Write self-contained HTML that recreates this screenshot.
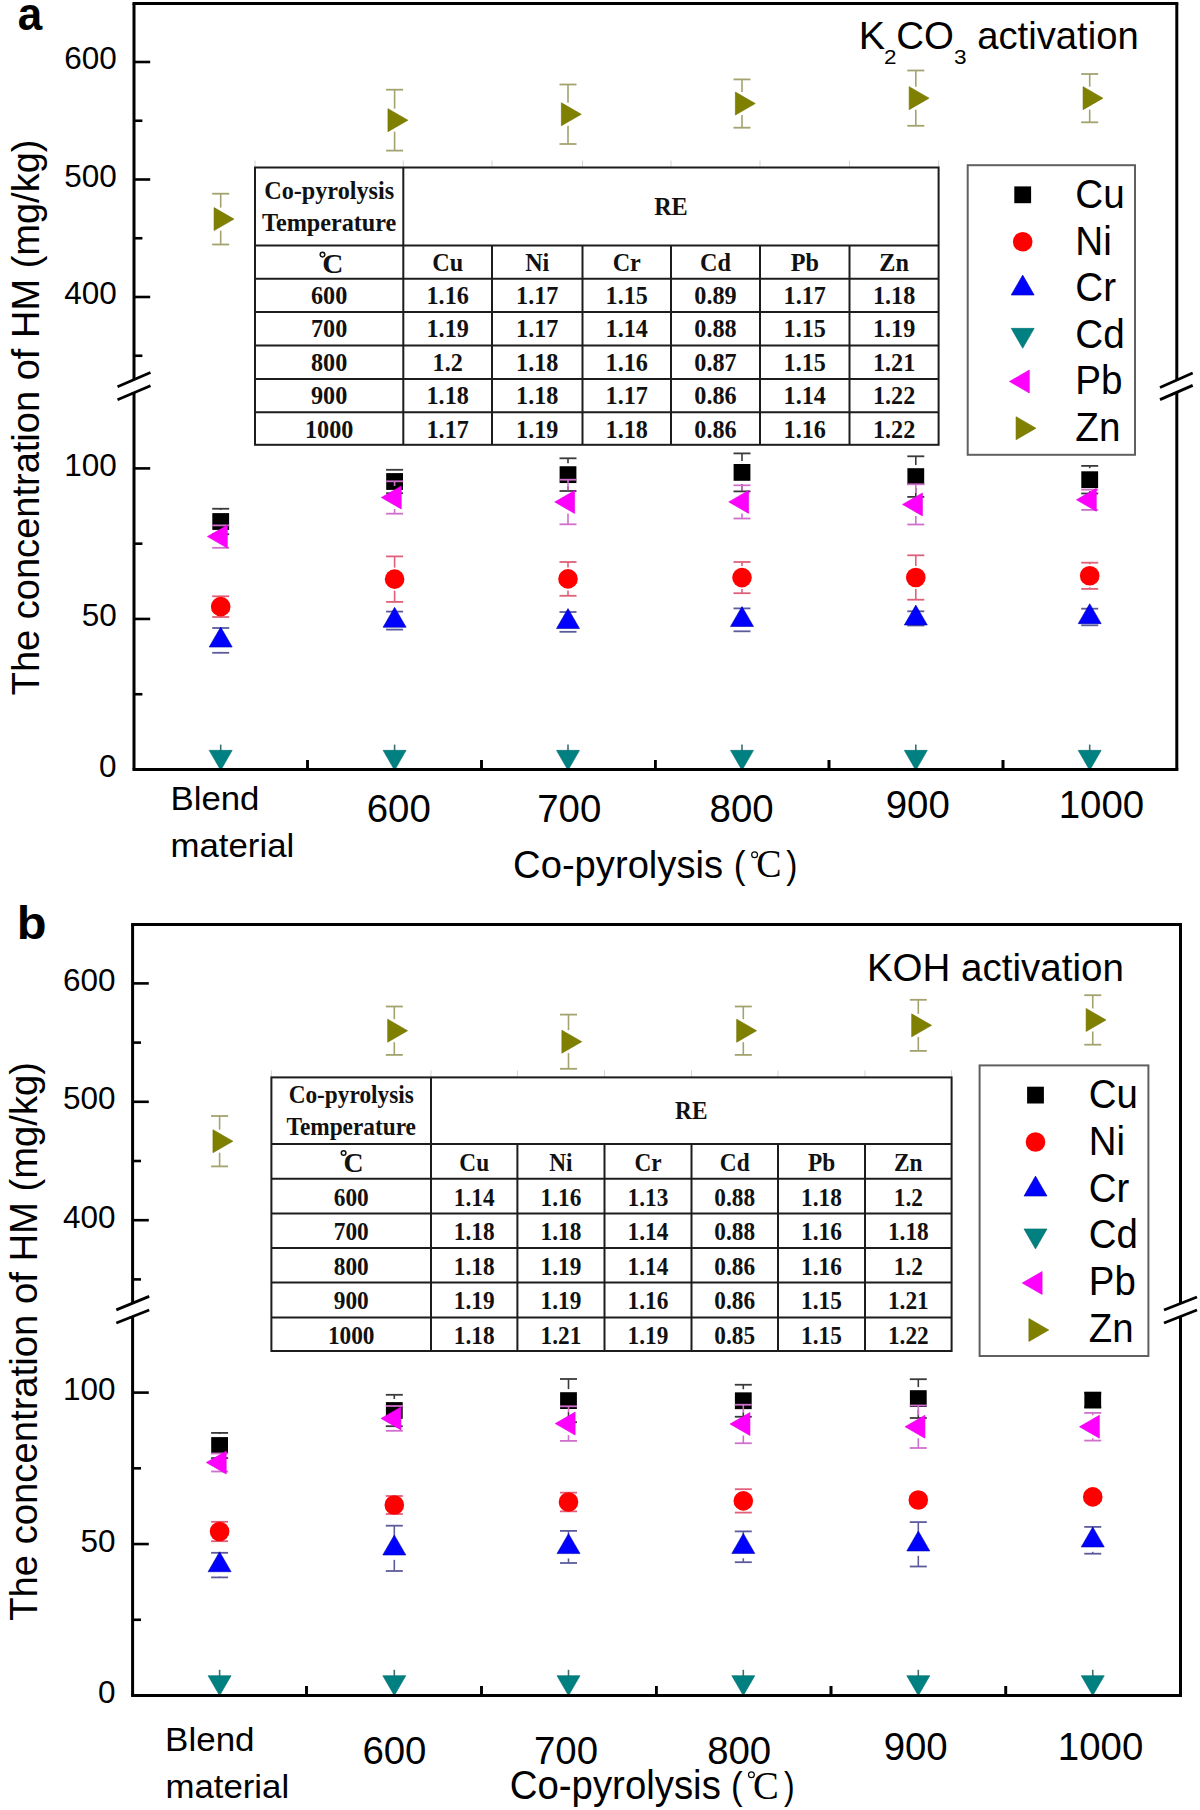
<!DOCTYPE html>
<html><head><meta charset="utf-8"><title>chart</title>
<style>
html,body{margin:0;padding:0;background:#fff;}
body{width:1200px;height:1810px;overflow:hidden;font-family:"Liberation Sans", sans-serif;}
svg{display:block;}
</style></head><body>
<svg width="1200" height="1810" viewBox="0 0 1200 1810">
<rect x="0" y="0" width="1200" height="1810" fill="#ffffff"/>
<text x="0" y="0" font-family="&quot;Liberation Sans&quot;, sans-serif" font-size="46.55" font-weight="bold" fill="#000" transform="translate(17.68,29.83) scale(0.9445,1)">a</text>
<line x1="117.50" y1="386.70" x2="150.50" y2="372.50" stroke="#000" stroke-width="2.8" stroke-linecap="butt"/>
<line x1="117.50" y1="399.70" x2="150.50" y2="385.80" stroke="#000" stroke-width="2.8" stroke-linecap="butt"/>
<line x1="1160.00" y1="387.50" x2="1192.70" y2="373.00" stroke="#000" stroke-width="2.8" stroke-linecap="butt"/>
<line x1="1160.00" y1="399.60" x2="1192.70" y2="385.40" stroke="#000" stroke-width="2.8" stroke-linecap="butt"/>
<line x1="134.00" y1="62.00" x2="150.20" y2="62.00" stroke="#000" stroke-width="2.6" stroke-linecap="butt"/>
<line x1="134.00" y1="179.50" x2="150.20" y2="179.50" stroke="#000" stroke-width="2.6" stroke-linecap="butt"/>
<line x1="134.00" y1="297.00" x2="150.20" y2="297.00" stroke="#000" stroke-width="2.6" stroke-linecap="butt"/>
<line x1="134.00" y1="120.75" x2="142.40" y2="120.75" stroke="#000" stroke-width="2.6" stroke-linecap="butt"/>
<line x1="134.00" y1="238.25" x2="142.40" y2="238.25" stroke="#000" stroke-width="2.6" stroke-linecap="butt"/>
<line x1="134.00" y1="355.75" x2="142.40" y2="355.75" stroke="#000" stroke-width="2.6" stroke-linecap="butt"/>
<line x1="134.00" y1="468.40" x2="150.20" y2="468.40" stroke="#000" stroke-width="2.6" stroke-linecap="butt"/>
<line x1="134.00" y1="618.95" x2="150.20" y2="618.95" stroke="#000" stroke-width="2.6" stroke-linecap="butt"/>
<line x1="134.00" y1="543.67" x2="142.40" y2="543.67" stroke="#000" stroke-width="2.6" stroke-linecap="butt"/>
<line x1="134.00" y1="694.23" x2="142.40" y2="694.23" stroke="#000" stroke-width="2.6" stroke-linecap="butt"/>
<text x="0" y="0" font-family="&quot;Liberation Sans&quot;, sans-serif" font-size="31.50" font-weight="normal" fill="#000" transform="translate(64.16,69.40)">600</text>
<text x="0" y="0" font-family="&quot;Liberation Sans&quot;, sans-serif" font-size="31.50" font-weight="normal" fill="#000" transform="translate(64.16,186.90)">500</text>
<text x="0" y="0" font-family="&quot;Liberation Sans&quot;, sans-serif" font-size="31.50" font-weight="normal" fill="#000" transform="translate(64.16,304.40)">400</text>
<text x="0" y="0" font-family="&quot;Liberation Sans&quot;, sans-serif" font-size="31.50" font-weight="normal" fill="#000" transform="translate(64.16,475.80)">100</text>
<text x="0" y="0" font-family="&quot;Liberation Sans&quot;, sans-serif" font-size="31.50" font-weight="normal" fill="#000" transform="translate(81.79,626.35)">50</text>
<text x="0" y="0" font-family="&quot;Liberation Sans&quot;, sans-serif" font-size="31.50" font-weight="normal" fill="#000" transform="translate(99.12,776.90)">0</text>
<line x1="307.50" y1="769.50" x2="307.50" y2="760.00" stroke="#000" stroke-width="2.6" stroke-linecap="butt"/>
<line x1="481.50" y1="769.50" x2="481.50" y2="760.00" stroke="#000" stroke-width="2.6" stroke-linecap="butt"/>
<line x1="655.30" y1="769.50" x2="655.30" y2="760.00" stroke="#000" stroke-width="2.6" stroke-linecap="butt"/>
<line x1="829.00" y1="769.50" x2="829.00" y2="760.00" stroke="#000" stroke-width="2.6" stroke-linecap="butt"/>
<line x1="1003.00" y1="769.50" x2="1003.00" y2="760.00" stroke="#000" stroke-width="2.6" stroke-linecap="butt"/>
<text x="0" y="0" font-family="&quot;Liberation Sans&quot;, sans-serif" font-size="39.60" font-weight="normal" fill="#000" transform="translate(366.73,821.90) scale(0.9700,1)">600</text>
<text x="0" y="0" font-family="&quot;Liberation Sans&quot;, sans-serif" font-size="39.60" font-weight="normal" fill="#000" transform="translate(537.23,821.60) scale(0.9700,1)">700</text>
<text x="0" y="0" font-family="&quot;Liberation Sans&quot;, sans-serif" font-size="39.60" font-weight="normal" fill="#000" transform="translate(709.58,821.90) scale(0.9700,1)">800</text>
<text x="0" y="0" font-family="&quot;Liberation Sans&quot;, sans-serif" font-size="39.60" font-weight="normal" fill="#000" transform="translate(885.73,818.30) scale(0.9700,1)">900</text>
<text x="0" y="0" font-family="&quot;Liberation Sans&quot;, sans-serif" font-size="39.60" font-weight="normal" fill="#000" transform="translate(1058.69,818.00) scale(0.9700,1)">1000</text>
<text x="0" y="0" font-family="&quot;Liberation Sans&quot;, sans-serif" font-size="32.84" font-weight="normal" fill="#000" transform="translate(170.52,809.67) scale(1.0589,1)">Blend</text>
<text x="0" y="0" font-family="&quot;Liberation Sans&quot;, sans-serif" font-size="33.92" font-weight="normal" fill="#000" transform="translate(170.46,856.76) scale(1.0258,1)">material</text>
<text x="0" y="0" font-family="&quot;Liberation Sans&quot;, sans-serif" font-size="39.30" font-weight="normal" fill="#000" transform="translate(513.09,878.00) scale(0.9717,1)">Co-pyrolysis</text>
<text x="0" y="0" font-family="&quot;Liberation Sans&quot;, sans-serif" font-size="38.09" font-weight="normal" fill="#000" transform="translate(733.68,878.30) scale(0.9291,1)">(</text>
<text x="0" y="0" font-family="&quot;Liberation Sans&quot;, sans-serif" font-size="38.09" font-weight="normal" fill="#000" transform="translate(786.37,878.30) scale(0.8786,1)">)</text>
<circle cx="754.60" cy="854.70" r="2.9" fill="none" stroke="#000" stroke-width="1.2"/>
<text x="0" y="0" font-family="&quot;Liberation Serif&quot;, serif" font-size="40.30" font-weight="normal" fill="#000" transform="translate(756.28,877.19) scale(0.9404,1)">C</text>
<text x="0" y="0" font-family="&quot;Liberation Sans&quot;, sans-serif" font-size="39.50" font-weight="normal" fill="#000" transform="translate(38.50,695.26) rotate(-90) scale(0.9627,1)">The concentration of HM (mg/kg)</text>
<text x="0" y="0" font-family="&quot;Liberation Sans&quot;, sans-serif" font-size="39.40" font-weight="normal" fill="#000" transform="translate(858.74,49.00) scale(1.0019,1)">K</text>
<text x="0" y="0" font-family="&quot;Liberation Sans&quot;, sans-serif" font-size="20.50" font-weight="normal" fill="#000" transform="translate(884.12,64.00) scale(1.0976,1)">2</text>
<text x="0" y="0" font-family="&quot;Liberation Sans&quot;, sans-serif" font-size="39.40" font-weight="normal" fill="#000" transform="translate(896.18,49.00) scale(0.9753,1)">CO</text>
<text x="0" y="0" font-family="&quot;Liberation Sans&quot;, sans-serif" font-size="20.50" font-weight="normal" fill="#000" transform="translate(954.10,64.00) scale(1.1002,1)">3</text>
<text x="0" y="0" font-family="&quot;Liberation Sans&quot;, sans-serif" font-size="39.40" font-weight="normal" fill="#000" transform="translate(977.22,49.00) scale(0.9703,1)">activation</text>
<line x1="220.70" y1="508.75" x2="220.70" y2="510.00" stroke="#3a3a3a" stroke-width="1.6"/><line x1="220.70" y1="533.00" x2="220.70" y2="534.25" stroke="#3a3a3a" stroke-width="1.6"/><line x1="212.20" y1="508.75" x2="229.20" y2="508.75" stroke="#3a3a3a" stroke-width="1.8"/><line x1="212.20" y1="534.25" x2="229.20" y2="534.25" stroke="#3a3a3a" stroke-width="1.8"/>
<rect x="212.30" y="513.10" width="16.80" height="16.80" fill="#000000"/>
<line x1="394.60" y1="469.80" x2="394.60" y2="470.00" stroke="#3a3a3a" stroke-width="1.6"/><line x1="394.60" y1="493.00" x2="394.60" y2="493.20" stroke="#3a3a3a" stroke-width="1.6"/><line x1="386.10" y1="469.80" x2="403.10" y2="469.80" stroke="#3a3a3a" stroke-width="1.8"/><line x1="386.10" y1="493.20" x2="403.10" y2="493.20" stroke="#3a3a3a" stroke-width="1.8"/>
<rect x="386.20" y="473.10" width="16.80" height="16.80" fill="#000000"/>
<line x1="568.00" y1="458.30" x2="568.00" y2="463.15" stroke="#3a3a3a" stroke-width="1.6"/><line x1="568.00" y1="486.15" x2="568.00" y2="491.00" stroke="#3a3a3a" stroke-width="1.6"/><line x1="559.50" y1="458.30" x2="576.50" y2="458.30" stroke="#3a3a3a" stroke-width="1.8"/><line x1="559.50" y1="491.00" x2="576.50" y2="491.00" stroke="#3a3a3a" stroke-width="1.8"/>
<rect x="559.60" y="466.25" width="16.80" height="16.80" fill="#000000"/>
<line x1="742.00" y1="453.40" x2="742.00" y2="460.90" stroke="#3a3a3a" stroke-width="1.6"/><line x1="742.00" y1="483.90" x2="742.00" y2="491.40" stroke="#3a3a3a" stroke-width="1.6"/><line x1="733.50" y1="453.40" x2="750.50" y2="453.40" stroke="#3a3a3a" stroke-width="1.8"/><line x1="733.50" y1="491.40" x2="750.50" y2="491.40" stroke="#3a3a3a" stroke-width="1.8"/>
<rect x="733.60" y="464.00" width="16.80" height="16.80" fill="#000000"/>
<line x1="915.80" y1="456.30" x2="915.80" y2="465.10" stroke="#3a3a3a" stroke-width="1.6"/><line x1="915.80" y1="488.10" x2="915.80" y2="496.90" stroke="#3a3a3a" stroke-width="1.6"/><line x1="907.30" y1="456.30" x2="924.30" y2="456.30" stroke="#3a3a3a" stroke-width="1.8"/><line x1="907.30" y1="496.90" x2="924.30" y2="496.90" stroke="#3a3a3a" stroke-width="1.8"/>
<rect x="907.40" y="468.20" width="16.80" height="16.80" fill="#000000"/>
<line x1="1089.70" y1="465.90" x2="1089.70" y2="468.20" stroke="#3a3a3a" stroke-width="1.6"/><line x1="1089.70" y1="491.20" x2="1089.70" y2="493.50" stroke="#3a3a3a" stroke-width="1.6"/><line x1="1081.20" y1="465.90" x2="1098.20" y2="465.90" stroke="#3a3a3a" stroke-width="1.8"/><line x1="1081.20" y1="493.50" x2="1098.20" y2="493.50" stroke="#3a3a3a" stroke-width="1.8"/>
<rect x="1081.30" y="471.30" width="16.80" height="16.80" fill="#000000"/>
<line x1="212.20" y1="596.30" x2="229.20" y2="596.30" stroke="#e0607a" stroke-width="1.8"/><line x1="212.20" y1="617.00" x2="229.20" y2="617.00" stroke="#e0607a" stroke-width="1.8"/>
<circle cx="220.70" cy="606.65" r="9.80" fill="#ff0000"/>
<line x1="394.60" y1="556.40" x2="394.60" y2="567.65" stroke="#e0607a" stroke-width="1.6"/><line x1="394.60" y1="590.65" x2="394.60" y2="601.90" stroke="#e0607a" stroke-width="1.6"/><line x1="386.10" y1="556.40" x2="403.10" y2="556.40" stroke="#e0607a" stroke-width="1.8"/><line x1="386.10" y1="601.90" x2="403.10" y2="601.90" stroke="#e0607a" stroke-width="1.8"/>
<circle cx="394.60" cy="579.15" r="9.80" fill="#ff0000"/>
<line x1="568.00" y1="562.00" x2="568.00" y2="567.40" stroke="#e0607a" stroke-width="1.6"/><line x1="568.00" y1="590.40" x2="568.00" y2="595.80" stroke="#e0607a" stroke-width="1.6"/><line x1="559.50" y1="562.00" x2="576.50" y2="562.00" stroke="#e0607a" stroke-width="1.8"/><line x1="559.50" y1="595.80" x2="576.50" y2="595.80" stroke="#e0607a" stroke-width="1.8"/>
<circle cx="568.00" cy="578.90" r="9.80" fill="#ff0000"/>
<line x1="742.00" y1="562.00" x2="742.00" y2="566.10" stroke="#e0607a" stroke-width="1.6"/><line x1="742.00" y1="589.10" x2="742.00" y2="593.20" stroke="#e0607a" stroke-width="1.6"/><line x1="733.50" y1="562.00" x2="750.50" y2="562.00" stroke="#e0607a" stroke-width="1.8"/><line x1="733.50" y1="593.20" x2="750.50" y2="593.20" stroke="#e0607a" stroke-width="1.8"/>
<circle cx="742.00" cy="577.60" r="9.80" fill="#ff0000"/>
<line x1="915.80" y1="555.30" x2="915.80" y2="566.00" stroke="#e0607a" stroke-width="1.6"/><line x1="915.80" y1="589.00" x2="915.80" y2="599.70" stroke="#e0607a" stroke-width="1.6"/><line x1="907.30" y1="555.30" x2="924.30" y2="555.30" stroke="#e0607a" stroke-width="1.8"/><line x1="907.30" y1="599.70" x2="924.30" y2="599.70" stroke="#e0607a" stroke-width="1.8"/>
<circle cx="915.80" cy="577.50" r="9.80" fill="#ff0000"/>
<line x1="1089.70" y1="562.70" x2="1089.70" y2="564.30" stroke="#e0607a" stroke-width="1.6"/><line x1="1089.70" y1="587.30" x2="1089.70" y2="588.90" stroke="#e0607a" stroke-width="1.6"/><line x1="1081.20" y1="562.70" x2="1098.20" y2="562.70" stroke="#e0607a" stroke-width="1.8"/><line x1="1081.20" y1="588.90" x2="1098.20" y2="588.90" stroke="#e0607a" stroke-width="1.8"/>
<circle cx="1089.70" cy="575.80" r="9.80" fill="#ff0000"/>
<line x1="220.70" y1="628.00" x2="220.70" y2="628.90" stroke="#5c5c9c" stroke-width="1.6"/><line x1="220.70" y1="651.90" x2="220.70" y2="652.80" stroke="#5c5c9c" stroke-width="1.6"/><line x1="212.20" y1="628.00" x2="229.20" y2="628.00" stroke="#5c5c9c" stroke-width="1.8"/><line x1="212.20" y1="652.80" x2="229.20" y2="652.80" stroke="#5c5c9c" stroke-width="1.8"/>
<polygon points="220.70,627.12 232.20,647.04 209.20,647.04" fill="#0000ff" stroke="#0000b0" stroke-width="0.6"/>
<line x1="386.10" y1="611.60" x2="403.10" y2="611.60" stroke="#5c5c9c" stroke-width="1.8"/><line x1="386.10" y1="629.60" x2="403.10" y2="629.60" stroke="#5c5c9c" stroke-width="1.8"/>
<polygon points="394.60,607.32 406.10,627.24 383.10,627.24" fill="#0000ff" stroke="#0000b0" stroke-width="0.6"/>
<line x1="559.50" y1="612.00" x2="576.50" y2="612.00" stroke="#5c5c9c" stroke-width="1.8"/><line x1="559.50" y1="631.80" x2="576.50" y2="631.80" stroke="#5c5c9c" stroke-width="1.8"/>
<polygon points="568.00,608.62 579.50,628.54 556.50,628.54" fill="#0000ff" stroke="#0000b0" stroke-width="0.6"/>
<line x1="733.50" y1="608.40" x2="750.50" y2="608.40" stroke="#5c5c9c" stroke-width="1.8"/><line x1="733.50" y1="631.30" x2="750.50" y2="631.30" stroke="#5c5c9c" stroke-width="1.8"/>
<polygon points="742.00,606.57 753.50,626.49 730.50,626.49" fill="#0000ff" stroke="#0000b0" stroke-width="0.6"/>
<line x1="907.30" y1="611.30" x2="924.30" y2="611.30" stroke="#5c5c9c" stroke-width="1.8"/><line x1="907.30" y1="625.50" x2="924.30" y2="625.50" stroke="#5c5c9c" stroke-width="1.8"/>
<polygon points="915.80,605.12 927.30,625.04 904.30,625.04" fill="#0000ff" stroke="#0000b0" stroke-width="0.6"/>
<line x1="1081.20" y1="608.70" x2="1098.20" y2="608.70" stroke="#5c5c9c" stroke-width="1.8"/><line x1="1081.20" y1="625.30" x2="1098.20" y2="625.30" stroke="#5c5c9c" stroke-width="1.8"/>
<polygon points="1089.70,603.72 1101.20,623.64 1078.20,623.64" fill="#0000ff" stroke="#0000b0" stroke-width="0.6"/>
<line x1="220.70" y1="744.60" x2="220.70" y2="768.50" stroke="#3c6e6e" stroke-width="1.6"/>
<polygon points="220.70,770.28 232.20,750.36 209.20,750.36" fill="#008080" stroke="#007070" stroke-width="0.6"/>
<line x1="394.60" y1="744.60" x2="394.60" y2="768.50" stroke="#3c6e6e" stroke-width="1.6"/>
<polygon points="394.60,770.28 406.10,750.36 383.10,750.36" fill="#008080" stroke="#007070" stroke-width="0.6"/>
<line x1="568.00" y1="744.60" x2="568.00" y2="768.50" stroke="#3c6e6e" stroke-width="1.6"/>
<polygon points="568.00,770.28 579.50,750.36 556.50,750.36" fill="#008080" stroke="#007070" stroke-width="0.6"/>
<line x1="742.00" y1="744.60" x2="742.00" y2="768.50" stroke="#3c6e6e" stroke-width="1.6"/>
<polygon points="742.00,770.28 753.50,750.36 730.50,750.36" fill="#008080" stroke="#007070" stroke-width="0.6"/>
<line x1="915.80" y1="744.60" x2="915.80" y2="768.50" stroke="#3c6e6e" stroke-width="1.6"/>
<polygon points="915.80,770.28 927.30,750.36 904.30,750.36" fill="#008080" stroke="#007070" stroke-width="0.6"/>
<line x1="1089.70" y1="744.60" x2="1089.70" y2="768.50" stroke="#3c6e6e" stroke-width="1.6"/>
<polygon points="1089.70,770.28 1101.20,750.36 1078.20,750.36" fill="#008080" stroke="#007070" stroke-width="0.6"/>
<line x1="212.20" y1="525.40" x2="229.20" y2="525.40" stroke="#d070cc" stroke-width="1.8"/><line x1="212.20" y1="547.80" x2="229.20" y2="547.80" stroke="#d070cc" stroke-width="1.8"/>
<polygon points="207.42,536.60 227.34,525.10 227.34,548.10" fill="#ff00ff" stroke="#e000e0" stroke-width="0.6"/>
<line x1="394.60" y1="481.30" x2="394.60" y2="486.00" stroke="#d070cc" stroke-width="1.6"/><line x1="394.60" y1="509.00" x2="394.60" y2="513.70" stroke="#d070cc" stroke-width="1.6"/><line x1="386.10" y1="481.30" x2="403.10" y2="481.30" stroke="#d070cc" stroke-width="1.8"/><line x1="386.10" y1="513.70" x2="403.10" y2="513.70" stroke="#d070cc" stroke-width="1.8"/>
<polygon points="381.32,497.50 401.24,486.00 401.24,509.00" fill="#ff00ff" stroke="#e000e0" stroke-width="0.6"/>
<line x1="568.00" y1="479.70" x2="568.00" y2="490.50" stroke="#d070cc" stroke-width="1.6"/><line x1="568.00" y1="513.50" x2="568.00" y2="524.30" stroke="#d070cc" stroke-width="1.6"/><line x1="559.50" y1="479.70" x2="576.50" y2="479.70" stroke="#d070cc" stroke-width="1.8"/><line x1="559.50" y1="524.30" x2="576.50" y2="524.30" stroke="#d070cc" stroke-width="1.8"/>
<polygon points="554.72,502.00 574.64,490.50 574.64,513.50" fill="#ff00ff" stroke="#e000e0" stroke-width="0.6"/>
<line x1="742.00" y1="485.30" x2="742.00" y2="490.40" stroke="#d070cc" stroke-width="1.6"/><line x1="742.00" y1="513.40" x2="742.00" y2="518.50" stroke="#d070cc" stroke-width="1.6"/><line x1="733.50" y1="485.30" x2="750.50" y2="485.30" stroke="#d070cc" stroke-width="1.8"/><line x1="733.50" y1="518.50" x2="750.50" y2="518.50" stroke="#d070cc" stroke-width="1.8"/>
<polygon points="728.72,501.90 748.64,490.40 748.64,513.40" fill="#ff00ff" stroke="#e000e0" stroke-width="0.6"/>
<line x1="915.80" y1="484.30" x2="915.80" y2="492.90" stroke="#d070cc" stroke-width="1.6"/><line x1="915.80" y1="515.90" x2="915.80" y2="524.50" stroke="#d070cc" stroke-width="1.6"/><line x1="907.30" y1="484.30" x2="924.30" y2="484.30" stroke="#d070cc" stroke-width="1.8"/><line x1="907.30" y1="524.50" x2="924.30" y2="524.50" stroke="#d070cc" stroke-width="1.8"/>
<polygon points="902.52,504.40 922.44,492.90 922.44,515.90" fill="#ff00ff" stroke="#e000e0" stroke-width="0.6"/>
<line x1="1081.20" y1="489.70" x2="1098.20" y2="489.70" stroke="#d070cc" stroke-width="1.8"/><line x1="1081.20" y1="509.90" x2="1098.20" y2="509.90" stroke="#d070cc" stroke-width="1.8"/>
<polygon points="1076.42,499.80 1096.34,488.30 1096.34,511.30" fill="#ff00ff" stroke="#e000e0" stroke-width="0.6"/>
<line x1="220.70" y1="193.70" x2="220.70" y2="207.60" stroke="#a3a370" stroke-width="1.6"/><line x1="220.70" y1="230.60" x2="220.70" y2="244.50" stroke="#a3a370" stroke-width="1.6"/><line x1="212.20" y1="193.70" x2="229.20" y2="193.70" stroke="#a3a370" stroke-width="1.8"/><line x1="212.20" y1="244.50" x2="229.20" y2="244.50" stroke="#a3a370" stroke-width="1.8"/>
<polygon points="233.98,219.10 214.06,207.60 214.06,230.60" fill="#808000" stroke="#707000" stroke-width="0.6"/>
<line x1="394.60" y1="89.70" x2="394.60" y2="108.65" stroke="#a3a370" stroke-width="1.6"/><line x1="394.60" y1="131.65" x2="394.60" y2="150.60" stroke="#a3a370" stroke-width="1.6"/><line x1="386.10" y1="89.70" x2="403.10" y2="89.70" stroke="#a3a370" stroke-width="1.8"/><line x1="386.10" y1="150.60" x2="403.10" y2="150.60" stroke="#a3a370" stroke-width="1.8"/>
<polygon points="407.88,120.15 387.96,108.65 387.96,131.65" fill="#808000" stroke="#707000" stroke-width="0.6"/>
<line x1="568.00" y1="84.50" x2="568.00" y2="102.75" stroke="#a3a370" stroke-width="1.6"/><line x1="568.00" y1="125.75" x2="568.00" y2="144.00" stroke="#a3a370" stroke-width="1.6"/><line x1="559.50" y1="84.50" x2="576.50" y2="84.50" stroke="#a3a370" stroke-width="1.8"/><line x1="559.50" y1="144.00" x2="576.50" y2="144.00" stroke="#a3a370" stroke-width="1.8"/>
<polygon points="581.28,114.25 561.36,102.75 561.36,125.75" fill="#808000" stroke="#707000" stroke-width="0.6"/>
<line x1="742.00" y1="79.40" x2="742.00" y2="92.05" stroke="#a3a370" stroke-width="1.6"/><line x1="742.00" y1="115.05" x2="742.00" y2="127.70" stroke="#a3a370" stroke-width="1.6"/><line x1="733.50" y1="79.40" x2="750.50" y2="79.40" stroke="#a3a370" stroke-width="1.8"/><line x1="733.50" y1="127.70" x2="750.50" y2="127.70" stroke="#a3a370" stroke-width="1.8"/>
<polygon points="755.28,103.55 735.36,92.05 735.36,115.05" fill="#808000" stroke="#707000" stroke-width="0.6"/>
<line x1="915.80" y1="70.50" x2="915.80" y2="86.65" stroke="#a3a370" stroke-width="1.6"/><line x1="915.80" y1="109.65" x2="915.80" y2="125.80" stroke="#a3a370" stroke-width="1.6"/><line x1="907.30" y1="70.50" x2="924.30" y2="70.50" stroke="#a3a370" stroke-width="1.8"/><line x1="907.30" y1="125.80" x2="924.30" y2="125.80" stroke="#a3a370" stroke-width="1.8"/>
<polygon points="929.08,98.15 909.16,86.65 909.16,109.65" fill="#808000" stroke="#707000" stroke-width="0.6"/>
<line x1="1089.70" y1="74.00" x2="1089.70" y2="86.65" stroke="#a3a370" stroke-width="1.6"/><line x1="1089.70" y1="109.65" x2="1089.70" y2="122.30" stroke="#a3a370" stroke-width="1.6"/><line x1="1081.20" y1="74.00" x2="1098.20" y2="74.00" stroke="#a3a370" stroke-width="1.8"/><line x1="1081.20" y1="122.30" x2="1098.20" y2="122.30" stroke="#a3a370" stroke-width="1.8"/>
<polygon points="1102.98,98.15 1083.06,86.65 1083.06,109.65" fill="#808000" stroke="#707000" stroke-width="0.6"/>
<line x1="132.50" y1="3.40" x2="1178.30" y2="3.40" stroke="#000" stroke-width="3" stroke-linecap="butt"/>
<line x1="132.50" y1="769.50" x2="1178.30" y2="769.50" stroke="#000" stroke-width="3" stroke-linecap="butt"/>
<line x1="134.00" y1="3.40" x2="134.00" y2="379.60" stroke="#000" stroke-width="3" stroke-linecap="butt"/>
<line x1="134.00" y1="392.80" x2="134.00" y2="769.50" stroke="#000" stroke-width="3" stroke-linecap="butt"/>
<line x1="1176.80" y1="3.40" x2="1176.80" y2="380.00" stroke="#000" stroke-width="3" stroke-linecap="butt"/>
<line x1="1176.80" y1="392.20" x2="1176.80" y2="769.50" stroke="#000" stroke-width="3" stroke-linecap="butt"/>
<line x1="307.50" y1="769.50" x2="307.50" y2="760.00" stroke="#000" stroke-width="2.6" stroke-linecap="butt"/>
<line x1="481.50" y1="769.50" x2="481.50" y2="760.00" stroke="#000" stroke-width="2.6" stroke-linecap="butt"/>
<line x1="655.30" y1="769.50" x2="655.30" y2="760.00" stroke="#000" stroke-width="2.6" stroke-linecap="butt"/>
<line x1="829.00" y1="769.50" x2="829.00" y2="760.00" stroke="#000" stroke-width="2.6" stroke-linecap="butt"/>
<line x1="1003.00" y1="769.50" x2="1003.00" y2="760.00" stroke="#000" stroke-width="2.6" stroke-linecap="butt"/>
<rect x="255.00" y="167.50" width="683.60" height="277.30" fill="#ffffff"/>
<line x1="255.00" y1="160.50" x2="255.00" y2="167.50" stroke="#d4d4d4" stroke-width="1.0" stroke-linecap="butt"/>
<line x1="403.30" y1="160.50" x2="403.30" y2="167.50" stroke="#d4d4d4" stroke-width="1.0" stroke-linecap="butt"/>
<line x1="492.00" y1="160.50" x2="492.00" y2="167.50" stroke="#d4d4d4" stroke-width="1.0" stroke-linecap="butt"/>
<line x1="582.50" y1="160.50" x2="582.50" y2="167.50" stroke="#d4d4d4" stroke-width="1.0" stroke-linecap="butt"/>
<line x1="671.00" y1="160.50" x2="671.00" y2="167.50" stroke="#d4d4d4" stroke-width="1.0" stroke-linecap="butt"/>
<line x1="760.00" y1="160.50" x2="760.00" y2="167.50" stroke="#d4d4d4" stroke-width="1.0" stroke-linecap="butt"/>
<line x1="849.50" y1="160.50" x2="849.50" y2="167.50" stroke="#d4d4d4" stroke-width="1.0" stroke-linecap="butt"/>
<line x1="938.60" y1="160.50" x2="938.60" y2="167.50" stroke="#d4d4d4" stroke-width="1.0" stroke-linecap="butt"/>
<rect x="255.00" y="167.50" width="683.60" height="277.30" fill="none" stroke="#1c1c1c" stroke-width="2.0"/>
<line x1="255.00" y1="245.50" x2="938.60" y2="245.50" stroke="#1c1c1c" stroke-width="2.0" stroke-linecap="butt"/>
<line x1="255.00" y1="278.70" x2="938.60" y2="278.70" stroke="#1c1c1c" stroke-width="2.0" stroke-linecap="butt"/>
<line x1="255.00" y1="312.00" x2="938.60" y2="312.00" stroke="#1c1c1c" stroke-width="2.0" stroke-linecap="butt"/>
<line x1="255.00" y1="345.60" x2="938.60" y2="345.60" stroke="#1c1c1c" stroke-width="2.0" stroke-linecap="butt"/>
<line x1="255.00" y1="379.00" x2="938.60" y2="379.00" stroke="#1c1c1c" stroke-width="2.0" stroke-linecap="butt"/>
<line x1="255.00" y1="412.30" x2="938.60" y2="412.30" stroke="#1c1c1c" stroke-width="2.0" stroke-linecap="butt"/>
<line x1="403.30" y1="167.50" x2="403.30" y2="444.80" stroke="#1c1c1c" stroke-width="2.0" stroke-linecap="butt"/>
<line x1="492.00" y1="245.50" x2="492.00" y2="444.80" stroke="#1c1c1c" stroke-width="2.0" stroke-linecap="butt"/>
<line x1="582.50" y1="245.50" x2="582.50" y2="444.80" stroke="#1c1c1c" stroke-width="2.0" stroke-linecap="butt"/>
<line x1="671.00" y1="245.50" x2="671.00" y2="444.80" stroke="#1c1c1c" stroke-width="2.0" stroke-linecap="butt"/>
<line x1="760.00" y1="245.50" x2="760.00" y2="444.80" stroke="#1c1c1c" stroke-width="2.0" stroke-linecap="butt"/>
<line x1="849.50" y1="245.50" x2="849.50" y2="444.80" stroke="#1c1c1c" stroke-width="2.0" stroke-linecap="butt"/>
<text x="0" y="0" font-family="&quot;Liberation Serif&quot;, serif" font-size="24.20" font-weight="bold" text-anchor="middle" fill="#111" transform="translate(329.15,198.60) scale(1.0000,1)">Co-pyrolysis</text>
<text x="0" y="0" font-family="&quot;Liberation Serif&quot;, serif" font-size="24.20" font-weight="bold" text-anchor="middle" fill="#111" transform="translate(329.15,231.20) scale(1.0000,1)">Temperature</text>
<text x="0" y="0" font-family="&quot;Liberation Serif&quot;, serif" font-size="24.20" font-weight="bold" text-anchor="middle" fill="#111" transform="translate(670.95,214.90) scale(1.0000,1)">RE</text>
<text x="0" y="0" font-family="&quot;Liberation Serif&quot;, serif" font-size="26.59" font-weight="bold" fill="#111" transform="translate(322.24,272.53) scale(1.1000,1)">C</text>
<circle cx="322.50" cy="254.60" r="2.3" fill="none" stroke="#111" stroke-width="1.5"/>
<text x="0" y="0" font-family="&quot;Liberation Serif&quot;, serif" font-size="24.20" font-weight="bold" text-anchor="middle" fill="#111" transform="translate(447.65,270.90) scale(1.0000,1)">Cu</text>
<text x="0" y="0" font-family="&quot;Liberation Serif&quot;, serif" font-size="24.20" font-weight="bold" text-anchor="middle" fill="#111" transform="translate(537.25,270.90) scale(1.0000,1)">Ni</text>
<text x="0" y="0" font-family="&quot;Liberation Serif&quot;, serif" font-size="24.20" font-weight="bold" text-anchor="middle" fill="#111" transform="translate(626.75,270.90) scale(1.0000,1)">Cr</text>
<text x="0" y="0" font-family="&quot;Liberation Serif&quot;, serif" font-size="24.20" font-weight="bold" text-anchor="middle" fill="#111" transform="translate(715.50,270.90) scale(1.0000,1)">Cd</text>
<text x="0" y="0" font-family="&quot;Liberation Serif&quot;, serif" font-size="24.20" font-weight="bold" text-anchor="middle" fill="#111" transform="translate(804.75,270.90) scale(1.0000,1)">Pb</text>
<text x="0" y="0" font-family="&quot;Liberation Serif&quot;, serif" font-size="24.20" font-weight="bold" text-anchor="middle" fill="#111" transform="translate(894.05,270.90) scale(1.0000,1)">Zn</text>
<text x="0" y="0" font-family="&quot;Liberation Serif&quot;, serif" font-size="24.20" font-weight="bold" text-anchor="middle" fill="#111" transform="translate(329.15,304.10) scale(1.0000,1)">600</text>
<text x="0" y="0" font-family="&quot;Liberation Serif&quot;, serif" font-size="24.20" font-weight="bold" text-anchor="middle" fill="#111" transform="translate(447.65,304.10) scale(1.0000,1)">1.16</text>
<text x="0" y="0" font-family="&quot;Liberation Serif&quot;, serif" font-size="24.20" font-weight="bold" text-anchor="middle" fill="#111" transform="translate(537.25,304.10) scale(1.0000,1)">1.17</text>
<text x="0" y="0" font-family="&quot;Liberation Serif&quot;, serif" font-size="24.20" font-weight="bold" text-anchor="middle" fill="#111" transform="translate(626.75,304.10) scale(1.0000,1)">1.15</text>
<text x="0" y="0" font-family="&quot;Liberation Serif&quot;, serif" font-size="24.20" font-weight="bold" text-anchor="middle" fill="#111" transform="translate(715.50,304.10) scale(1.0000,1)">0.89</text>
<text x="0" y="0" font-family="&quot;Liberation Serif&quot;, serif" font-size="24.20" font-weight="bold" text-anchor="middle" fill="#111" transform="translate(804.75,304.10) scale(1.0000,1)">1.17</text>
<text x="0" y="0" font-family="&quot;Liberation Serif&quot;, serif" font-size="24.20" font-weight="bold" text-anchor="middle" fill="#111" transform="translate(894.05,304.10) scale(1.0000,1)">1.18</text>
<text x="0" y="0" font-family="&quot;Liberation Serif&quot;, serif" font-size="24.20" font-weight="bold" text-anchor="middle" fill="#111" transform="translate(329.15,337.40) scale(1.0000,1)">700</text>
<text x="0" y="0" font-family="&quot;Liberation Serif&quot;, serif" font-size="24.20" font-weight="bold" text-anchor="middle" fill="#111" transform="translate(447.65,337.40) scale(1.0000,1)">1.19</text>
<text x="0" y="0" font-family="&quot;Liberation Serif&quot;, serif" font-size="24.20" font-weight="bold" text-anchor="middle" fill="#111" transform="translate(537.25,337.40) scale(1.0000,1)">1.17</text>
<text x="0" y="0" font-family="&quot;Liberation Serif&quot;, serif" font-size="24.20" font-weight="bold" text-anchor="middle" fill="#111" transform="translate(626.75,337.40) scale(1.0000,1)">1.14</text>
<text x="0" y="0" font-family="&quot;Liberation Serif&quot;, serif" font-size="24.20" font-weight="bold" text-anchor="middle" fill="#111" transform="translate(715.50,337.40) scale(1.0000,1)">0.88</text>
<text x="0" y="0" font-family="&quot;Liberation Serif&quot;, serif" font-size="24.20" font-weight="bold" text-anchor="middle" fill="#111" transform="translate(804.75,337.40) scale(1.0000,1)">1.15</text>
<text x="0" y="0" font-family="&quot;Liberation Serif&quot;, serif" font-size="24.20" font-weight="bold" text-anchor="middle" fill="#111" transform="translate(894.05,337.40) scale(1.0000,1)">1.19</text>
<text x="0" y="0" font-family="&quot;Liberation Serif&quot;, serif" font-size="24.20" font-weight="bold" text-anchor="middle" fill="#111" transform="translate(329.15,371.00) scale(1.0000,1)">800</text>
<text x="0" y="0" font-family="&quot;Liberation Serif&quot;, serif" font-size="24.20" font-weight="bold" text-anchor="middle" fill="#111" transform="translate(447.65,371.00) scale(1.0000,1)">1.2</text>
<text x="0" y="0" font-family="&quot;Liberation Serif&quot;, serif" font-size="24.20" font-weight="bold" text-anchor="middle" fill="#111" transform="translate(537.25,371.00) scale(1.0000,1)">1.18</text>
<text x="0" y="0" font-family="&quot;Liberation Serif&quot;, serif" font-size="24.20" font-weight="bold" text-anchor="middle" fill="#111" transform="translate(626.75,371.00) scale(1.0000,1)">1.16</text>
<text x="0" y="0" font-family="&quot;Liberation Serif&quot;, serif" font-size="24.20" font-weight="bold" text-anchor="middle" fill="#111" transform="translate(715.50,371.00) scale(1.0000,1)">0.87</text>
<text x="0" y="0" font-family="&quot;Liberation Serif&quot;, serif" font-size="24.20" font-weight="bold" text-anchor="middle" fill="#111" transform="translate(804.75,371.00) scale(1.0000,1)">1.15</text>
<text x="0" y="0" font-family="&quot;Liberation Serif&quot;, serif" font-size="24.20" font-weight="bold" text-anchor="middle" fill="#111" transform="translate(894.05,371.00) scale(1.0000,1)">1.21</text>
<text x="0" y="0" font-family="&quot;Liberation Serif&quot;, serif" font-size="24.20" font-weight="bold" text-anchor="middle" fill="#111" transform="translate(329.15,404.40) scale(1.0000,1)">900</text>
<text x="0" y="0" font-family="&quot;Liberation Serif&quot;, serif" font-size="24.20" font-weight="bold" text-anchor="middle" fill="#111" transform="translate(447.65,404.40) scale(1.0000,1)">1.18</text>
<text x="0" y="0" font-family="&quot;Liberation Serif&quot;, serif" font-size="24.20" font-weight="bold" text-anchor="middle" fill="#111" transform="translate(537.25,404.40) scale(1.0000,1)">1.18</text>
<text x="0" y="0" font-family="&quot;Liberation Serif&quot;, serif" font-size="24.20" font-weight="bold" text-anchor="middle" fill="#111" transform="translate(626.75,404.40) scale(1.0000,1)">1.17</text>
<text x="0" y="0" font-family="&quot;Liberation Serif&quot;, serif" font-size="24.20" font-weight="bold" text-anchor="middle" fill="#111" transform="translate(715.50,404.40) scale(1.0000,1)">0.86</text>
<text x="0" y="0" font-family="&quot;Liberation Serif&quot;, serif" font-size="24.20" font-weight="bold" text-anchor="middle" fill="#111" transform="translate(804.75,404.40) scale(1.0000,1)">1.14</text>
<text x="0" y="0" font-family="&quot;Liberation Serif&quot;, serif" font-size="24.20" font-weight="bold" text-anchor="middle" fill="#111" transform="translate(894.05,404.40) scale(1.0000,1)">1.22</text>
<text x="0" y="0" font-family="&quot;Liberation Serif&quot;, serif" font-size="24.20" font-weight="bold" text-anchor="middle" fill="#111" transform="translate(329.15,437.70) scale(1.0000,1)">1000</text>
<text x="0" y="0" font-family="&quot;Liberation Serif&quot;, serif" font-size="24.20" font-weight="bold" text-anchor="middle" fill="#111" transform="translate(447.65,437.70) scale(1.0000,1)">1.17</text>
<text x="0" y="0" font-family="&quot;Liberation Serif&quot;, serif" font-size="24.20" font-weight="bold" text-anchor="middle" fill="#111" transform="translate(537.25,437.70) scale(1.0000,1)">1.19</text>
<text x="0" y="0" font-family="&quot;Liberation Serif&quot;, serif" font-size="24.20" font-weight="bold" text-anchor="middle" fill="#111" transform="translate(626.75,437.70) scale(1.0000,1)">1.18</text>
<text x="0" y="0" font-family="&quot;Liberation Serif&quot;, serif" font-size="24.20" font-weight="bold" text-anchor="middle" fill="#111" transform="translate(715.50,437.70) scale(1.0000,1)">0.86</text>
<text x="0" y="0" font-family="&quot;Liberation Serif&quot;, serif" font-size="24.20" font-weight="bold" text-anchor="middle" fill="#111" transform="translate(804.75,437.70) scale(1.0000,1)">1.16</text>
<text x="0" y="0" font-family="&quot;Liberation Serif&quot;, serif" font-size="24.20" font-weight="bold" text-anchor="middle" fill="#111" transform="translate(894.05,437.70) scale(1.0000,1)">1.22</text>
<rect x="967.70" y="165.20" width="167.30" height="289.60" fill="#ffffff" stroke="#606060" stroke-width="2"/>
<rect x="1014.30" y="186.40" width="16.80" height="16.80" fill="#000000"/>
<text x="0" y="0" font-family="&quot;Liberation Sans&quot;, sans-serif" font-size="40.50" font-weight="normal" fill="#000" transform="translate(1075.32,208.10) scale(0.9550,1)">Cu</text>
<circle cx="1022.70" cy="241.70" r="9.80" fill="#ff0000"/>
<text x="0" y="0" font-family="&quot;Liberation Sans&quot;, sans-serif" font-size="40.50" font-weight="normal" fill="#000" transform="translate(1075.32,254.60) scale(0.9550,1)">Ni</text>
<polygon points="1022.70,275.12 1034.20,295.04 1011.20,295.04" fill="#0000ff" stroke="#0000b0" stroke-width="0.6"/>
<text x="0" y="0" font-family="&quot;Liberation Sans&quot;, sans-serif" font-size="40.50" font-weight="normal" fill="#000" transform="translate(1075.32,301.10) scale(0.9550,1)">Cr</text>
<polygon points="1022.70,348.28 1034.20,328.36 1011.20,328.36" fill="#008080" stroke="#007070" stroke-width="0.6"/>
<text x="0" y="0" font-family="&quot;Liberation Sans&quot;, sans-serif" font-size="40.50" font-weight="normal" fill="#000" transform="translate(1075.32,347.60) scale(0.9550,1)">Cd</text>
<polygon points="1009.42,381.50 1029.34,370.00 1029.34,393.00" fill="#ff00ff" stroke="#e000e0" stroke-width="0.6"/>
<text x="0" y="0" font-family="&quot;Liberation Sans&quot;, sans-serif" font-size="40.50" font-weight="normal" fill="#000" transform="translate(1075.32,394.10) scale(0.9550,1)">Pb</text>
<polygon points="1035.98,428.20 1016.06,416.70 1016.06,439.70" fill="#808000" stroke="#707000" stroke-width="0.6"/>
<text x="0" y="0" font-family="&quot;Liberation Sans&quot;, sans-serif" font-size="40.50" font-weight="normal" fill="#000" transform="translate(1075.32,440.60) scale(0.9550,1)">Zn</text>
<text x="0" y="0" font-family="&quot;Liberation Sans&quot;, sans-serif" font-size="46.23" font-weight="bold" fill="#000" transform="translate(16.78,938.75) scale(1.0555,1)">b</text>
<line x1="116.30" y1="1309.90" x2="149.20" y2="1296.40" stroke="#000" stroke-width="2.8" stroke-linecap="butt"/>
<line x1="116.30" y1="1323.00" x2="149.20" y2="1310.00" stroke="#000" stroke-width="2.8" stroke-linecap="butt"/>
<line x1="1164.00" y1="1310.00" x2="1197.00" y2="1297.00" stroke="#000" stroke-width="2.8" stroke-linecap="butt"/>
<line x1="1164.00" y1="1323.00" x2="1197.00" y2="1310.00" stroke="#000" stroke-width="2.8" stroke-linecap="butt"/>
<line x1="132.60" y1="983.40" x2="148.80" y2="983.40" stroke="#000" stroke-width="2.6" stroke-linecap="butt"/>
<line x1="132.60" y1="1101.80" x2="148.80" y2="1101.80" stroke="#000" stroke-width="2.6" stroke-linecap="butt"/>
<line x1="132.60" y1="1220.20" x2="148.80" y2="1220.20" stroke="#000" stroke-width="2.6" stroke-linecap="butt"/>
<line x1="132.60" y1="1042.60" x2="141.00" y2="1042.60" stroke="#000" stroke-width="2.6" stroke-linecap="butt"/>
<line x1="132.60" y1="1161.00" x2="141.00" y2="1161.00" stroke="#000" stroke-width="2.6" stroke-linecap="butt"/>
<line x1="132.60" y1="1279.40" x2="141.00" y2="1279.40" stroke="#000" stroke-width="2.6" stroke-linecap="butt"/>
<line x1="132.60" y1="1392.60" x2="148.80" y2="1392.60" stroke="#000" stroke-width="2.6" stroke-linecap="butt"/>
<line x1="132.60" y1="1544.05" x2="148.80" y2="1544.05" stroke="#000" stroke-width="2.6" stroke-linecap="butt"/>
<line x1="132.60" y1="1468.33" x2="141.00" y2="1468.33" stroke="#000" stroke-width="2.6" stroke-linecap="butt"/>
<line x1="132.60" y1="1619.78" x2="141.00" y2="1619.78" stroke="#000" stroke-width="2.6" stroke-linecap="butt"/>
<text x="0" y="0" font-family="&quot;Liberation Sans&quot;, sans-serif" font-size="31.50" font-weight="normal" fill="#000" transform="translate(62.95,991.00)">600</text>
<text x="0" y="0" font-family="&quot;Liberation Sans&quot;, sans-serif" font-size="31.50" font-weight="normal" fill="#000" transform="translate(62.95,1109.40)">500</text>
<text x="0" y="0" font-family="&quot;Liberation Sans&quot;, sans-serif" font-size="31.50" font-weight="normal" fill="#000" transform="translate(62.95,1227.80)">400</text>
<text x="0" y="0" font-family="&quot;Liberation Sans&quot;, sans-serif" font-size="31.50" font-weight="normal" fill="#000" transform="translate(62.95,1400.20)">100</text>
<text x="0" y="0" font-family="&quot;Liberation Sans&quot;, sans-serif" font-size="31.50" font-weight="normal" fill="#000" transform="translate(80.59,1551.65)">50</text>
<text x="0" y="0" font-family="&quot;Liberation Sans&quot;, sans-serif" font-size="31.50" font-weight="normal" fill="#000" transform="translate(97.92,1703.10)">0</text>
<line x1="306.50" y1="1695.50" x2="306.50" y2="1686.00" stroke="#000" stroke-width="2.6" stroke-linecap="butt"/>
<line x1="481.50" y1="1695.50" x2="481.50" y2="1686.00" stroke="#000" stroke-width="2.6" stroke-linecap="butt"/>
<line x1="656.30" y1="1695.50" x2="656.30" y2="1686.00" stroke="#000" stroke-width="2.6" stroke-linecap="butt"/>
<line x1="831.00" y1="1695.50" x2="831.00" y2="1686.00" stroke="#000" stroke-width="2.6" stroke-linecap="butt"/>
<line x1="1005.80" y1="1695.50" x2="1005.80" y2="1686.00" stroke="#000" stroke-width="2.6" stroke-linecap="butt"/>
<text x="0" y="0" font-family="&quot;Liberation Sans&quot;, sans-serif" font-size="39.60" font-weight="normal" fill="#000" transform="translate(362.38,1763.60) scale(0.9700,1)">600</text>
<text x="0" y="0" font-family="&quot;Liberation Sans&quot;, sans-serif" font-size="39.60" font-weight="normal" fill="#000" transform="translate(533.93,1763.60) scale(0.9700,1)">700</text>
<text x="0" y="0" font-family="&quot;Liberation Sans&quot;, sans-serif" font-size="39.60" font-weight="normal" fill="#000" transform="translate(707.13,1763.60) scale(0.9700,1)">800</text>
<text x="0" y="0" font-family="&quot;Liberation Sans&quot;, sans-serif" font-size="39.60" font-weight="normal" fill="#000" transform="translate(883.63,1759.60) scale(0.9700,1)">900</text>
<text x="0" y="0" font-family="&quot;Liberation Sans&quot;, sans-serif" font-size="39.60" font-weight="normal" fill="#000" transform="translate(1057.84,1759.60) scale(0.9700,1)">1000</text>
<text x="0" y="0" font-family="&quot;Liberation Sans&quot;, sans-serif" font-size="33.38" font-weight="normal" fill="#000" transform="translate(165.10,1751.37) scale(1.0480,1)">Blend</text>
<text x="0" y="0" font-family="&quot;Liberation Sans&quot;, sans-serif" font-size="33.85" font-weight="normal" fill="#000" transform="translate(165.46,1798.41) scale(1.0279,1)">material</text>
<text x="0" y="0" font-family="&quot;Liberation Sans&quot;, sans-serif" font-size="40.00" font-weight="normal" fill="#000" transform="translate(509.78,1799.00) scale(0.9593,1)">Co-pyrolysis</text>
<text x="0" y="0" font-family="&quot;Liberation Sans&quot;, sans-serif" font-size="37.98" font-weight="normal" fill="#000" transform="translate(731.00,1798.72) scale(0.9216,1)">(</text>
<text x="0" y="0" font-family="&quot;Liberation Sans&quot;, sans-serif" font-size="37.98" font-weight="normal" fill="#000" transform="translate(784.08,1798.72) scale(0.8406,1)">)</text>
<circle cx="751.40" cy="1774.70" r="2.9" fill="none" stroke="#000" stroke-width="1.2"/>
<text x="0" y="0" font-family="&quot;Liberation Serif&quot;, serif" font-size="40.30" font-weight="normal" fill="#000" transform="translate(753.06,1798.59) scale(0.9578,1)">C</text>
<text x="0" y="0" font-family="&quot;Liberation Sans&quot;, sans-serif" font-size="39.50" font-weight="normal" fill="#000" transform="translate(36.50,1620.76) rotate(-90) scale(0.9683,1)">The concentration of HM (mg/kg)</text>
<text x="0" y="0" font-family="&quot;Liberation Sans&quot;, sans-serif" font-size="39.20" font-weight="normal" fill="#000" transform="translate(866.92,980.80) scale(0.9830,1)">KOH activation</text>
<line x1="219.60" y1="1432.90" x2="219.60" y2="1434.00" stroke="#3a3a3a" stroke-width="1.6"/><line x1="219.60" y1="1457.00" x2="219.60" y2="1458.10" stroke="#3a3a3a" stroke-width="1.6"/><line x1="211.10" y1="1432.90" x2="228.10" y2="1432.90" stroke="#3a3a3a" stroke-width="1.8"/><line x1="211.10" y1="1458.10" x2="228.10" y2="1458.10" stroke="#3a3a3a" stroke-width="1.8"/>
<rect x="211.20" y="1437.10" width="16.80" height="16.80" fill="#000000"/>
<line x1="394.30" y1="1394.80" x2="394.30" y2="1399.00" stroke="#3a3a3a" stroke-width="1.6"/><line x1="394.30" y1="1422.00" x2="394.30" y2="1426.20" stroke="#3a3a3a" stroke-width="1.6"/><line x1="385.80" y1="1394.80" x2="402.80" y2="1394.80" stroke="#3a3a3a" stroke-width="1.8"/><line x1="385.80" y1="1426.20" x2="402.80" y2="1426.20" stroke="#3a3a3a" stroke-width="1.8"/>
<rect x="385.90" y="1402.10" width="16.80" height="16.80" fill="#000000"/>
<line x1="568.50" y1="1379.00" x2="568.50" y2="1389.10" stroke="#3a3a3a" stroke-width="1.6"/><line x1="568.50" y1="1412.10" x2="568.50" y2="1422.20" stroke="#3a3a3a" stroke-width="1.6"/><line x1="560.00" y1="1379.00" x2="577.00" y2="1379.00" stroke="#3a3a3a" stroke-width="1.8"/><line x1="560.00" y1="1422.20" x2="577.00" y2="1422.20" stroke="#3a3a3a" stroke-width="1.8"/>
<rect x="560.10" y="1392.20" width="16.80" height="16.80" fill="#000000"/>
<line x1="743.30" y1="1384.75" x2="743.30" y2="1389.25" stroke="#3a3a3a" stroke-width="1.6"/><line x1="743.30" y1="1412.25" x2="743.30" y2="1416.75" stroke="#3a3a3a" stroke-width="1.6"/><line x1="734.80" y1="1384.75" x2="751.80" y2="1384.75" stroke="#3a3a3a" stroke-width="1.8"/><line x1="734.80" y1="1416.75" x2="751.80" y2="1416.75" stroke="#3a3a3a" stroke-width="1.8"/>
<rect x="734.90" y="1392.35" width="16.80" height="16.80" fill="#000000"/>
<line x1="918.30" y1="1379.20" x2="918.30" y2="1387.10" stroke="#3a3a3a" stroke-width="1.6"/><line x1="918.30" y1="1410.10" x2="918.30" y2="1418.00" stroke="#3a3a3a" stroke-width="1.6"/><line x1="909.80" y1="1379.20" x2="926.80" y2="1379.20" stroke="#3a3a3a" stroke-width="1.8"/><line x1="909.80" y1="1418.00" x2="926.80" y2="1418.00" stroke="#3a3a3a" stroke-width="1.8"/>
<rect x="909.90" y="1390.20" width="16.80" height="16.80" fill="#000000"/>
<line x1="1084.25" y1="1393.10" x2="1101.25" y2="1393.10" stroke="#3a3a3a" stroke-width="1.8"/><line x1="1084.25" y1="1407.10" x2="1101.25" y2="1407.10" stroke="#3a3a3a" stroke-width="1.8"/>
<rect x="1084.35" y="1391.70" width="16.80" height="16.80" fill="#000000"/>
<line x1="211.10" y1="1521.80" x2="228.10" y2="1521.80" stroke="#e0607a" stroke-width="1.8"/><line x1="211.10" y1="1541.20" x2="228.10" y2="1541.20" stroke="#e0607a" stroke-width="1.8"/>
<circle cx="219.60" cy="1531.50" r="9.80" fill="#ff0000"/>
<line x1="385.80" y1="1496.00" x2="402.80" y2="1496.00" stroke="#e0607a" stroke-width="1.8"/><line x1="385.80" y1="1514.00" x2="402.80" y2="1514.00" stroke="#e0607a" stroke-width="1.8"/>
<circle cx="394.30" cy="1505.00" r="9.80" fill="#ff0000"/>
<line x1="560.00" y1="1492.65" x2="577.00" y2="1492.65" stroke="#e0607a" stroke-width="1.8"/><line x1="560.00" y1="1511.35" x2="577.00" y2="1511.35" stroke="#e0607a" stroke-width="1.8"/>
<circle cx="568.50" cy="1502.00" r="9.80" fill="#ff0000"/>
<line x1="743.30" y1="1489.20" x2="743.30" y2="1489.40" stroke="#e0607a" stroke-width="1.6"/><line x1="743.30" y1="1512.40" x2="743.30" y2="1512.60" stroke="#e0607a" stroke-width="1.6"/><line x1="734.80" y1="1489.20" x2="751.80" y2="1489.20" stroke="#e0607a" stroke-width="1.8"/><line x1="734.80" y1="1512.60" x2="751.80" y2="1512.60" stroke="#e0607a" stroke-width="1.8"/>
<circle cx="743.30" cy="1500.90" r="9.80" fill="#ff0000"/>
<line x1="909.80" y1="1496.00" x2="926.80" y2="1496.00" stroke="#e0607a" stroke-width="1.8"/><line x1="909.80" y1="1504.00" x2="926.80" y2="1504.00" stroke="#e0607a" stroke-width="1.8"/>
<circle cx="918.30" cy="1500.00" r="9.80" fill="#ff0000"/>
<line x1="1084.25" y1="1492.90" x2="1101.25" y2="1492.90" stroke="#e0607a" stroke-width="1.8"/><line x1="1084.25" y1="1500.90" x2="1101.25" y2="1500.90" stroke="#e0607a" stroke-width="1.8"/>
<circle cx="1092.75" cy="1496.90" r="9.80" fill="#ff0000"/>
<line x1="219.60" y1="1552.80" x2="219.60" y2="1553.60" stroke="#5c5c9c" stroke-width="1.6"/><line x1="219.60" y1="1576.60" x2="219.60" y2="1577.40" stroke="#5c5c9c" stroke-width="1.6"/><line x1="211.10" y1="1552.80" x2="228.10" y2="1552.80" stroke="#5c5c9c" stroke-width="1.8"/><line x1="211.10" y1="1577.40" x2="228.10" y2="1577.40" stroke="#5c5c9c" stroke-width="1.8"/>
<polygon points="219.60,1551.82 231.10,1571.74 208.10,1571.74" fill="#0000ff" stroke="#0000b0" stroke-width="0.6"/>
<line x1="394.30" y1="1525.70" x2="394.30" y2="1536.85" stroke="#5c5c9c" stroke-width="1.6"/><line x1="394.30" y1="1559.85" x2="394.30" y2="1571.00" stroke="#5c5c9c" stroke-width="1.6"/><line x1="385.80" y1="1525.70" x2="402.80" y2="1525.70" stroke="#5c5c9c" stroke-width="1.8"/><line x1="385.80" y1="1571.00" x2="402.80" y2="1571.00" stroke="#5c5c9c" stroke-width="1.8"/>
<polygon points="394.30,1535.07 405.80,1554.99 382.80,1554.99" fill="#0000ff" stroke="#0000b0" stroke-width="0.6"/>
<line x1="568.50" y1="1530.90" x2="568.50" y2="1535.45" stroke="#5c5c9c" stroke-width="1.6"/><line x1="568.50" y1="1558.45" x2="568.50" y2="1563.00" stroke="#5c5c9c" stroke-width="1.6"/><line x1="560.00" y1="1530.90" x2="577.00" y2="1530.90" stroke="#5c5c9c" stroke-width="1.8"/><line x1="560.00" y1="1563.00" x2="577.00" y2="1563.00" stroke="#5c5c9c" stroke-width="1.8"/>
<polygon points="568.50,1533.67 580.00,1553.59 557.00,1553.59" fill="#0000ff" stroke="#0000b0" stroke-width="0.6"/>
<line x1="743.30" y1="1531.40" x2="743.30" y2="1535.30" stroke="#5c5c9c" stroke-width="1.6"/><line x1="743.30" y1="1558.30" x2="743.30" y2="1562.20" stroke="#5c5c9c" stroke-width="1.6"/><line x1="734.80" y1="1531.40" x2="751.80" y2="1531.40" stroke="#5c5c9c" stroke-width="1.8"/><line x1="734.80" y1="1562.20" x2="751.80" y2="1562.20" stroke="#5c5c9c" stroke-width="1.8"/>
<polygon points="743.30,1533.52 754.80,1553.44 731.80,1553.44" fill="#0000ff" stroke="#0000b0" stroke-width="0.6"/>
<line x1="918.30" y1="1522.10" x2="918.30" y2="1532.80" stroke="#5c5c9c" stroke-width="1.6"/><line x1="918.30" y1="1555.80" x2="918.30" y2="1566.50" stroke="#5c5c9c" stroke-width="1.6"/><line x1="909.80" y1="1522.10" x2="926.80" y2="1522.10" stroke="#5c5c9c" stroke-width="1.8"/><line x1="909.80" y1="1566.50" x2="926.80" y2="1566.50" stroke="#5c5c9c" stroke-width="1.8"/>
<polygon points="918.30,1531.02 929.80,1550.94 906.80,1550.94" fill="#0000ff" stroke="#0000b0" stroke-width="0.6"/>
<line x1="1092.75" y1="1526.90" x2="1092.75" y2="1528.80" stroke="#5c5c9c" stroke-width="1.6"/><line x1="1092.75" y1="1551.80" x2="1092.75" y2="1553.70" stroke="#5c5c9c" stroke-width="1.6"/><line x1="1084.25" y1="1526.90" x2="1101.25" y2="1526.90" stroke="#5c5c9c" stroke-width="1.8"/><line x1="1084.25" y1="1553.70" x2="1101.25" y2="1553.70" stroke="#5c5c9c" stroke-width="1.8"/>
<polygon points="1092.75,1527.02 1104.25,1546.94 1081.25,1546.94" fill="#0000ff" stroke="#0000b0" stroke-width="0.6"/>
<line x1="219.60" y1="1669.80" x2="219.60" y2="1694.50" stroke="#3c6e6e" stroke-width="1.6"/>
<polygon points="219.60,1695.58 231.10,1675.66 208.10,1675.66" fill="#008080" stroke="#007070" stroke-width="0.6"/>
<line x1="394.30" y1="1669.80" x2="394.30" y2="1694.50" stroke="#3c6e6e" stroke-width="1.6"/>
<polygon points="394.30,1695.58 405.80,1675.66 382.80,1675.66" fill="#008080" stroke="#007070" stroke-width="0.6"/>
<line x1="568.50" y1="1669.80" x2="568.50" y2="1694.50" stroke="#3c6e6e" stroke-width="1.6"/>
<polygon points="568.50,1695.58 580.00,1675.66 557.00,1675.66" fill="#008080" stroke="#007070" stroke-width="0.6"/>
<line x1="743.30" y1="1669.80" x2="743.30" y2="1694.50" stroke="#3c6e6e" stroke-width="1.6"/>
<polygon points="743.30,1695.58 754.80,1675.66 731.80,1675.66" fill="#008080" stroke="#007070" stroke-width="0.6"/>
<line x1="918.30" y1="1669.80" x2="918.30" y2="1694.50" stroke="#3c6e6e" stroke-width="1.6"/>
<polygon points="918.30,1695.58 929.80,1675.66 906.80,1675.66" fill="#008080" stroke="#007070" stroke-width="0.6"/>
<line x1="1092.75" y1="1669.80" x2="1092.75" y2="1694.50" stroke="#3c6e6e" stroke-width="1.6"/>
<polygon points="1092.75,1695.58 1104.25,1675.66 1081.25,1675.66" fill="#008080" stroke="#007070" stroke-width="0.6"/>
<line x1="211.10" y1="1453.50" x2="228.10" y2="1453.50" stroke="#d070cc" stroke-width="1.8"/><line x1="211.10" y1="1471.50" x2="228.10" y2="1471.50" stroke="#d070cc" stroke-width="1.8"/>
<polygon points="206.32,1462.50 226.24,1451.00 226.24,1474.00" fill="#ff00ff" stroke="#e000e0" stroke-width="0.6"/>
<line x1="394.30" y1="1406.00" x2="394.30" y2="1406.90" stroke="#d070cc" stroke-width="1.6"/><line x1="394.30" y1="1429.90" x2="394.30" y2="1430.80" stroke="#d070cc" stroke-width="1.6"/><line x1="385.80" y1="1406.00" x2="402.80" y2="1406.00" stroke="#d070cc" stroke-width="1.8"/><line x1="385.80" y1="1430.80" x2="402.80" y2="1430.80" stroke="#d070cc" stroke-width="1.8"/>
<polygon points="381.02,1418.40 400.94,1406.90 400.94,1429.90" fill="#ff00ff" stroke="#e000e0" stroke-width="0.6"/>
<line x1="568.50" y1="1406.30" x2="568.50" y2="1412.10" stroke="#d070cc" stroke-width="1.6"/><line x1="568.50" y1="1435.10" x2="568.50" y2="1440.90" stroke="#d070cc" stroke-width="1.6"/><line x1="560.00" y1="1406.30" x2="577.00" y2="1406.30" stroke="#d070cc" stroke-width="1.8"/><line x1="560.00" y1="1440.90" x2="577.00" y2="1440.90" stroke="#d070cc" stroke-width="1.8"/>
<polygon points="555.22,1423.60 575.14,1412.10 575.14,1435.10" fill="#ff00ff" stroke="#e000e0" stroke-width="0.6"/>
<line x1="743.30" y1="1404.75" x2="743.30" y2="1412.50" stroke="#d070cc" stroke-width="1.6"/><line x1="743.30" y1="1435.50" x2="743.30" y2="1443.25" stroke="#d070cc" stroke-width="1.6"/><line x1="734.80" y1="1404.75" x2="751.80" y2="1404.75" stroke="#d070cc" stroke-width="1.8"/><line x1="734.80" y1="1443.25" x2="751.80" y2="1443.25" stroke="#d070cc" stroke-width="1.8"/>
<polygon points="730.02,1424.00 749.94,1412.50 749.94,1435.50" fill="#ff00ff" stroke="#e000e0" stroke-width="0.6"/>
<line x1="918.30" y1="1405.50" x2="918.30" y2="1415.25" stroke="#d070cc" stroke-width="1.6"/><line x1="918.30" y1="1438.25" x2="918.30" y2="1448.00" stroke="#d070cc" stroke-width="1.6"/><line x1="909.80" y1="1405.50" x2="926.80" y2="1405.50" stroke="#d070cc" stroke-width="1.8"/><line x1="909.80" y1="1448.00" x2="926.80" y2="1448.00" stroke="#d070cc" stroke-width="1.8"/>
<polygon points="905.02,1426.75 924.94,1415.25 924.94,1438.25" fill="#ff00ff" stroke="#e000e0" stroke-width="0.6"/>
<line x1="1092.75" y1="1412.90" x2="1092.75" y2="1415.25" stroke="#d070cc" stroke-width="1.6"/><line x1="1092.75" y1="1438.25" x2="1092.75" y2="1440.60" stroke="#d070cc" stroke-width="1.6"/><line x1="1084.25" y1="1412.90" x2="1101.25" y2="1412.90" stroke="#d070cc" stroke-width="1.8"/><line x1="1084.25" y1="1440.60" x2="1101.25" y2="1440.60" stroke="#d070cc" stroke-width="1.8"/>
<polygon points="1079.47,1426.75 1099.39,1415.25 1099.39,1438.25" fill="#ff00ff" stroke="#e000e0" stroke-width="0.6"/>
<line x1="219.60" y1="1116.00" x2="219.60" y2="1129.70" stroke="#a3a370" stroke-width="1.6"/><line x1="219.60" y1="1152.70" x2="219.60" y2="1166.40" stroke="#a3a370" stroke-width="1.6"/><line x1="211.10" y1="1116.00" x2="228.10" y2="1116.00" stroke="#a3a370" stroke-width="1.8"/><line x1="211.10" y1="1166.40" x2="228.10" y2="1166.40" stroke="#a3a370" stroke-width="1.8"/>
<polygon points="232.88,1141.20 212.96,1129.70 212.96,1152.70" fill="#808000" stroke="#707000" stroke-width="0.6"/>
<line x1="394.30" y1="1006.50" x2="394.30" y2="1019.20" stroke="#a3a370" stroke-width="1.6"/><line x1="394.30" y1="1042.20" x2="394.30" y2="1054.90" stroke="#a3a370" stroke-width="1.6"/><line x1="385.80" y1="1006.50" x2="402.80" y2="1006.50" stroke="#a3a370" stroke-width="1.8"/><line x1="385.80" y1="1054.90" x2="402.80" y2="1054.90" stroke="#a3a370" stroke-width="1.8"/>
<polygon points="407.58,1030.70 387.66,1019.20 387.66,1042.20" fill="#808000" stroke="#707000" stroke-width="0.6"/>
<line x1="568.50" y1="1014.60" x2="568.50" y2="1030.20" stroke="#a3a370" stroke-width="1.6"/><line x1="568.50" y1="1053.20" x2="568.50" y2="1068.80" stroke="#a3a370" stroke-width="1.6"/><line x1="560.00" y1="1014.60" x2="577.00" y2="1014.60" stroke="#a3a370" stroke-width="1.8"/><line x1="560.00" y1="1068.80" x2="577.00" y2="1068.80" stroke="#a3a370" stroke-width="1.8"/>
<polygon points="581.78,1041.70 561.86,1030.20 561.86,1053.20" fill="#808000" stroke="#707000" stroke-width="0.6"/>
<line x1="743.30" y1="1006.50" x2="743.30" y2="1019.20" stroke="#a3a370" stroke-width="1.6"/><line x1="743.30" y1="1042.20" x2="743.30" y2="1054.90" stroke="#a3a370" stroke-width="1.6"/><line x1="734.80" y1="1006.50" x2="751.80" y2="1006.50" stroke="#a3a370" stroke-width="1.8"/><line x1="734.80" y1="1054.90" x2="751.80" y2="1054.90" stroke="#a3a370" stroke-width="1.8"/>
<polygon points="756.58,1030.70 736.66,1019.20 736.66,1042.20" fill="#808000" stroke="#707000" stroke-width="0.6"/>
<line x1="918.30" y1="999.80" x2="918.30" y2="1013.85" stroke="#a3a370" stroke-width="1.6"/><line x1="918.30" y1="1036.85" x2="918.30" y2="1050.90" stroke="#a3a370" stroke-width="1.6"/><line x1="909.80" y1="999.80" x2="926.80" y2="999.80" stroke="#a3a370" stroke-width="1.8"/><line x1="909.80" y1="1050.90" x2="926.80" y2="1050.90" stroke="#a3a370" stroke-width="1.8"/>
<polygon points="931.58,1025.35 911.66,1013.85 911.66,1036.85" fill="#808000" stroke="#707000" stroke-width="0.6"/>
<line x1="1092.75" y1="995.20" x2="1092.75" y2="1008.45" stroke="#a3a370" stroke-width="1.6"/><line x1="1092.75" y1="1031.45" x2="1092.75" y2="1044.70" stroke="#a3a370" stroke-width="1.6"/><line x1="1084.25" y1="995.20" x2="1101.25" y2="995.20" stroke="#a3a370" stroke-width="1.8"/><line x1="1084.25" y1="1044.70" x2="1101.25" y2="1044.70" stroke="#a3a370" stroke-width="1.8"/>
<polygon points="1106.03,1019.95 1086.11,1008.45 1086.11,1031.45" fill="#808000" stroke="#707000" stroke-width="0.6"/>
<line x1="131.10" y1="924.40" x2="1182.00" y2="924.40" stroke="#000" stroke-width="3" stroke-linecap="butt"/>
<line x1="131.10" y1="1695.50" x2="1182.00" y2="1695.50" stroke="#000" stroke-width="3" stroke-linecap="butt"/>
<line x1="132.60" y1="924.40" x2="132.60" y2="1303.00" stroke="#000" stroke-width="3" stroke-linecap="butt"/>
<line x1="132.60" y1="1316.30" x2="132.60" y2="1695.50" stroke="#000" stroke-width="3" stroke-linecap="butt"/>
<line x1="1180.50" y1="924.40" x2="1180.50" y2="1303.30" stroke="#000" stroke-width="3" stroke-linecap="butt"/>
<line x1="1180.50" y1="1316.30" x2="1180.50" y2="1695.50" stroke="#000" stroke-width="3" stroke-linecap="butt"/>
<line x1="306.50" y1="1695.50" x2="306.50" y2="1686.00" stroke="#000" stroke-width="2.6" stroke-linecap="butt"/>
<line x1="481.50" y1="1695.50" x2="481.50" y2="1686.00" stroke="#000" stroke-width="2.6" stroke-linecap="butt"/>
<line x1="656.30" y1="1695.50" x2="656.30" y2="1686.00" stroke="#000" stroke-width="2.6" stroke-linecap="butt"/>
<line x1="831.00" y1="1695.50" x2="831.00" y2="1686.00" stroke="#000" stroke-width="2.6" stroke-linecap="butt"/>
<line x1="1005.80" y1="1695.50" x2="1005.80" y2="1686.00" stroke="#000" stroke-width="2.6" stroke-linecap="butt"/>
<rect x="271.40" y="1077.40" width="680.20" height="273.60" fill="#ffffff"/>
<line x1="271.40" y1="1070.40" x2="271.40" y2="1077.40" stroke="#d4d4d4" stroke-width="1.0" stroke-linecap="butt"/>
<line x1="431.00" y1="1070.40" x2="431.00" y2="1077.40" stroke="#d4d4d4" stroke-width="1.0" stroke-linecap="butt"/>
<line x1="517.40" y1="1070.40" x2="517.40" y2="1077.40" stroke="#d4d4d4" stroke-width="1.0" stroke-linecap="butt"/>
<line x1="604.50" y1="1070.40" x2="604.50" y2="1077.40" stroke="#d4d4d4" stroke-width="1.0" stroke-linecap="butt"/>
<line x1="691.50" y1="1070.40" x2="691.50" y2="1077.40" stroke="#d4d4d4" stroke-width="1.0" stroke-linecap="butt"/>
<line x1="778.00" y1="1070.40" x2="778.00" y2="1077.40" stroke="#d4d4d4" stroke-width="1.0" stroke-linecap="butt"/>
<line x1="865.00" y1="1070.40" x2="865.00" y2="1077.40" stroke="#d4d4d4" stroke-width="1.0" stroke-linecap="butt"/>
<line x1="951.60" y1="1070.40" x2="951.60" y2="1077.40" stroke="#d4d4d4" stroke-width="1.0" stroke-linecap="butt"/>
<rect x="271.40" y="1077.40" width="680.20" height="273.60" fill="none" stroke="#1c1c1c" stroke-width="2.0"/>
<line x1="271.40" y1="1144.00" x2="951.60" y2="1144.00" stroke="#1c1c1c" stroke-width="2.0" stroke-linecap="butt"/>
<line x1="271.40" y1="1178.80" x2="951.60" y2="1178.80" stroke="#1c1c1c" stroke-width="2.0" stroke-linecap="butt"/>
<line x1="271.40" y1="1213.50" x2="951.60" y2="1213.50" stroke="#1c1c1c" stroke-width="2.0" stroke-linecap="butt"/>
<line x1="271.40" y1="1248.10" x2="951.60" y2="1248.10" stroke="#1c1c1c" stroke-width="2.0" stroke-linecap="butt"/>
<line x1="271.40" y1="1282.60" x2="951.60" y2="1282.60" stroke="#1c1c1c" stroke-width="2.0" stroke-linecap="butt"/>
<line x1="271.40" y1="1317.40" x2="951.60" y2="1317.40" stroke="#1c1c1c" stroke-width="2.0" stroke-linecap="butt"/>
<line x1="431.00" y1="1077.40" x2="431.00" y2="1351.00" stroke="#1c1c1c" stroke-width="2.0" stroke-linecap="butt"/>
<line x1="517.40" y1="1144.00" x2="517.40" y2="1351.00" stroke="#1c1c1c" stroke-width="2.0" stroke-linecap="butt"/>
<line x1="604.50" y1="1144.00" x2="604.50" y2="1351.00" stroke="#1c1c1c" stroke-width="2.0" stroke-linecap="butt"/>
<line x1="691.50" y1="1144.00" x2="691.50" y2="1351.00" stroke="#1c1c1c" stroke-width="2.0" stroke-linecap="butt"/>
<line x1="778.00" y1="1144.00" x2="778.00" y2="1351.00" stroke="#1c1c1c" stroke-width="2.0" stroke-linecap="butt"/>
<line x1="865.00" y1="1144.00" x2="865.00" y2="1351.00" stroke="#1c1c1c" stroke-width="2.0" stroke-linecap="butt"/>
<text x="0" y="0" font-family="&quot;Liberation Serif&quot;, serif" font-size="24.80" font-weight="bold" text-anchor="middle" fill="#111" transform="translate(351.20,1102.60) scale(0.9400,1)">Co-pyrolysis</text>
<text x="0" y="0" font-family="&quot;Liberation Serif&quot;, serif" font-size="24.80" font-weight="bold" text-anchor="middle" fill="#111" transform="translate(351.20,1134.90) scale(0.9400,1)">Temperature</text>
<text x="0" y="0" font-family="&quot;Liberation Serif&quot;, serif" font-size="24.80" font-weight="bold" text-anchor="middle" fill="#111" transform="translate(691.30,1118.50) scale(0.9400,1)">RE</text>
<text x="0" y="0" font-family="&quot;Liberation Serif&quot;, serif" font-size="26.36" font-weight="bold" fill="#111" transform="translate(343.41,1171.64) scale(1.0557,1)">C</text>
<circle cx="343.60" cy="1153.00" r="2.3" fill="none" stroke="#111" stroke-width="1.5"/>
<text x="0" y="0" font-family="&quot;Liberation Serif&quot;, serif" font-size="24.80" font-weight="bold" text-anchor="middle" fill="#111" transform="translate(474.20,1170.70) scale(0.9400,1)">Cu</text>
<text x="0" y="0" font-family="&quot;Liberation Serif&quot;, serif" font-size="24.80" font-weight="bold" text-anchor="middle" fill="#111" transform="translate(560.95,1170.70) scale(0.9400,1)">Ni</text>
<text x="0" y="0" font-family="&quot;Liberation Serif&quot;, serif" font-size="24.80" font-weight="bold" text-anchor="middle" fill="#111" transform="translate(648.00,1170.70) scale(0.9400,1)">Cr</text>
<text x="0" y="0" font-family="&quot;Liberation Serif&quot;, serif" font-size="24.80" font-weight="bold" text-anchor="middle" fill="#111" transform="translate(734.75,1170.70) scale(0.9400,1)">Cd</text>
<text x="0" y="0" font-family="&quot;Liberation Serif&quot;, serif" font-size="24.80" font-weight="bold" text-anchor="middle" fill="#111" transform="translate(821.50,1170.70) scale(0.9400,1)">Pb</text>
<text x="0" y="0" font-family="&quot;Liberation Serif&quot;, serif" font-size="24.80" font-weight="bold" text-anchor="middle" fill="#111" transform="translate(908.30,1170.70) scale(0.9400,1)">Zn</text>
<text x="0" y="0" font-family="&quot;Liberation Serif&quot;, serif" font-size="24.80" font-weight="bold" text-anchor="middle" fill="#111" transform="translate(351.20,1205.50) scale(0.9400,1)">600</text>
<text x="0" y="0" font-family="&quot;Liberation Serif&quot;, serif" font-size="24.80" font-weight="bold" text-anchor="middle" fill="#111" transform="translate(474.20,1205.50) scale(0.9400,1)">1.14</text>
<text x="0" y="0" font-family="&quot;Liberation Serif&quot;, serif" font-size="24.80" font-weight="bold" text-anchor="middle" fill="#111" transform="translate(560.95,1205.50) scale(0.9400,1)">1.16</text>
<text x="0" y="0" font-family="&quot;Liberation Serif&quot;, serif" font-size="24.80" font-weight="bold" text-anchor="middle" fill="#111" transform="translate(648.00,1205.50) scale(0.9400,1)">1.13</text>
<text x="0" y="0" font-family="&quot;Liberation Serif&quot;, serif" font-size="24.80" font-weight="bold" text-anchor="middle" fill="#111" transform="translate(734.75,1205.50) scale(0.9400,1)">0.88</text>
<text x="0" y="0" font-family="&quot;Liberation Serif&quot;, serif" font-size="24.80" font-weight="bold" text-anchor="middle" fill="#111" transform="translate(821.50,1205.50) scale(0.9400,1)">1.18</text>
<text x="0" y="0" font-family="&quot;Liberation Serif&quot;, serif" font-size="24.80" font-weight="bold" text-anchor="middle" fill="#111" transform="translate(908.30,1205.50) scale(0.9400,1)">1.2</text>
<text x="0" y="0" font-family="&quot;Liberation Serif&quot;, serif" font-size="24.80" font-weight="bold" text-anchor="middle" fill="#111" transform="translate(351.20,1240.20) scale(0.9400,1)">700</text>
<text x="0" y="0" font-family="&quot;Liberation Serif&quot;, serif" font-size="24.80" font-weight="bold" text-anchor="middle" fill="#111" transform="translate(474.20,1240.20) scale(0.9400,1)">1.18</text>
<text x="0" y="0" font-family="&quot;Liberation Serif&quot;, serif" font-size="24.80" font-weight="bold" text-anchor="middle" fill="#111" transform="translate(560.95,1240.20) scale(0.9400,1)">1.18</text>
<text x="0" y="0" font-family="&quot;Liberation Serif&quot;, serif" font-size="24.80" font-weight="bold" text-anchor="middle" fill="#111" transform="translate(648.00,1240.20) scale(0.9400,1)">1.14</text>
<text x="0" y="0" font-family="&quot;Liberation Serif&quot;, serif" font-size="24.80" font-weight="bold" text-anchor="middle" fill="#111" transform="translate(734.75,1240.20) scale(0.9400,1)">0.88</text>
<text x="0" y="0" font-family="&quot;Liberation Serif&quot;, serif" font-size="24.80" font-weight="bold" text-anchor="middle" fill="#111" transform="translate(821.50,1240.20) scale(0.9400,1)">1.16</text>
<text x="0" y="0" font-family="&quot;Liberation Serif&quot;, serif" font-size="24.80" font-weight="bold" text-anchor="middle" fill="#111" transform="translate(908.30,1240.20) scale(0.9400,1)">1.18</text>
<text x="0" y="0" font-family="&quot;Liberation Serif&quot;, serif" font-size="24.80" font-weight="bold" text-anchor="middle" fill="#111" transform="translate(351.20,1274.80) scale(0.9400,1)">800</text>
<text x="0" y="0" font-family="&quot;Liberation Serif&quot;, serif" font-size="24.80" font-weight="bold" text-anchor="middle" fill="#111" transform="translate(474.20,1274.80) scale(0.9400,1)">1.18</text>
<text x="0" y="0" font-family="&quot;Liberation Serif&quot;, serif" font-size="24.80" font-weight="bold" text-anchor="middle" fill="#111" transform="translate(560.95,1274.80) scale(0.9400,1)">1.19</text>
<text x="0" y="0" font-family="&quot;Liberation Serif&quot;, serif" font-size="24.80" font-weight="bold" text-anchor="middle" fill="#111" transform="translate(648.00,1274.80) scale(0.9400,1)">1.14</text>
<text x="0" y="0" font-family="&quot;Liberation Serif&quot;, serif" font-size="24.80" font-weight="bold" text-anchor="middle" fill="#111" transform="translate(734.75,1274.80) scale(0.9400,1)">0.86</text>
<text x="0" y="0" font-family="&quot;Liberation Serif&quot;, serif" font-size="24.80" font-weight="bold" text-anchor="middle" fill="#111" transform="translate(821.50,1274.80) scale(0.9400,1)">1.16</text>
<text x="0" y="0" font-family="&quot;Liberation Serif&quot;, serif" font-size="24.80" font-weight="bold" text-anchor="middle" fill="#111" transform="translate(908.30,1274.80) scale(0.9400,1)">1.2</text>
<text x="0" y="0" font-family="&quot;Liberation Serif&quot;, serif" font-size="24.80" font-weight="bold" text-anchor="middle" fill="#111" transform="translate(351.20,1309.30) scale(0.9400,1)">900</text>
<text x="0" y="0" font-family="&quot;Liberation Serif&quot;, serif" font-size="24.80" font-weight="bold" text-anchor="middle" fill="#111" transform="translate(474.20,1309.30) scale(0.9400,1)">1.19</text>
<text x="0" y="0" font-family="&quot;Liberation Serif&quot;, serif" font-size="24.80" font-weight="bold" text-anchor="middle" fill="#111" transform="translate(560.95,1309.30) scale(0.9400,1)">1.19</text>
<text x="0" y="0" font-family="&quot;Liberation Serif&quot;, serif" font-size="24.80" font-weight="bold" text-anchor="middle" fill="#111" transform="translate(648.00,1309.30) scale(0.9400,1)">1.16</text>
<text x="0" y="0" font-family="&quot;Liberation Serif&quot;, serif" font-size="24.80" font-weight="bold" text-anchor="middle" fill="#111" transform="translate(734.75,1309.30) scale(0.9400,1)">0.86</text>
<text x="0" y="0" font-family="&quot;Liberation Serif&quot;, serif" font-size="24.80" font-weight="bold" text-anchor="middle" fill="#111" transform="translate(821.50,1309.30) scale(0.9400,1)">1.15</text>
<text x="0" y="0" font-family="&quot;Liberation Serif&quot;, serif" font-size="24.80" font-weight="bold" text-anchor="middle" fill="#111" transform="translate(908.30,1309.30) scale(0.9400,1)">1.21</text>
<text x="0" y="0" font-family="&quot;Liberation Serif&quot;, serif" font-size="24.80" font-weight="bold" text-anchor="middle" fill="#111" transform="translate(351.20,1344.10) scale(0.9400,1)">1000</text>
<text x="0" y="0" font-family="&quot;Liberation Serif&quot;, serif" font-size="24.80" font-weight="bold" text-anchor="middle" fill="#111" transform="translate(474.20,1344.10) scale(0.9400,1)">1.18</text>
<text x="0" y="0" font-family="&quot;Liberation Serif&quot;, serif" font-size="24.80" font-weight="bold" text-anchor="middle" fill="#111" transform="translate(560.95,1344.10) scale(0.9400,1)">1.21</text>
<text x="0" y="0" font-family="&quot;Liberation Serif&quot;, serif" font-size="24.80" font-weight="bold" text-anchor="middle" fill="#111" transform="translate(648.00,1344.10) scale(0.9400,1)">1.19</text>
<text x="0" y="0" font-family="&quot;Liberation Serif&quot;, serif" font-size="24.80" font-weight="bold" text-anchor="middle" fill="#111" transform="translate(734.75,1344.10) scale(0.9400,1)">0.85</text>
<text x="0" y="0" font-family="&quot;Liberation Serif&quot;, serif" font-size="24.80" font-weight="bold" text-anchor="middle" fill="#111" transform="translate(821.50,1344.10) scale(0.9400,1)">1.15</text>
<text x="0" y="0" font-family="&quot;Liberation Serif&quot;, serif" font-size="24.80" font-weight="bold" text-anchor="middle" fill="#111" transform="translate(908.30,1344.10) scale(0.9400,1)">1.22</text>
<rect x="979.60" y="1065.40" width="168.80" height="290.60" fill="#ffffff" stroke="#606060" stroke-width="2"/>
<rect x="1027.10" y="1086.70" width="16.80" height="16.80" fill="#000000"/>
<text x="0" y="0" font-family="&quot;Liberation Sans&quot;, sans-serif" font-size="40.00" font-weight="normal" fill="#000" transform="translate(1088.83,1107.60) scale(0.9600,1)">Cu</text>
<circle cx="1035.50" cy="1142.00" r="9.80" fill="#ff0000"/>
<text x="0" y="0" font-family="&quot;Liberation Sans&quot;, sans-serif" font-size="40.00" font-weight="normal" fill="#000" transform="translate(1088.83,1154.55) scale(0.9600,1)">Ni</text>
<polygon points="1035.50,1176.12 1047.00,1196.04 1024.00,1196.04" fill="#0000ff" stroke="#0000b0" stroke-width="0.6"/>
<text x="0" y="0" font-family="&quot;Liberation Sans&quot;, sans-serif" font-size="40.00" font-weight="normal" fill="#000" transform="translate(1088.83,1201.50) scale(0.9600,1)">Cr</text>
<polygon points="1035.50,1248.88 1047.00,1228.96 1024.00,1228.96" fill="#008080" stroke="#007070" stroke-width="0.6"/>
<text x="0" y="0" font-family="&quot;Liberation Sans&quot;, sans-serif" font-size="40.00" font-weight="normal" fill="#000" transform="translate(1088.83,1248.45) scale(0.9600,1)">Cd</text>
<polygon points="1022.22,1283.00 1042.14,1271.50 1042.14,1294.50" fill="#ff00ff" stroke="#e000e0" stroke-width="0.6"/>
<text x="0" y="0" font-family="&quot;Liberation Sans&quot;, sans-serif" font-size="40.00" font-weight="normal" fill="#000" transform="translate(1088.83,1295.40) scale(0.9600,1)">Pb</text>
<polygon points="1048.78,1330.00 1028.86,1318.50 1028.86,1341.50" fill="#808000" stroke="#707000" stroke-width="0.6"/>
<text x="0" y="0" font-family="&quot;Liberation Sans&quot;, sans-serif" font-size="40.00" font-weight="normal" fill="#000" transform="translate(1088.83,1342.35) scale(0.9600,1)">Zn</text>
</svg>
</body></html>
